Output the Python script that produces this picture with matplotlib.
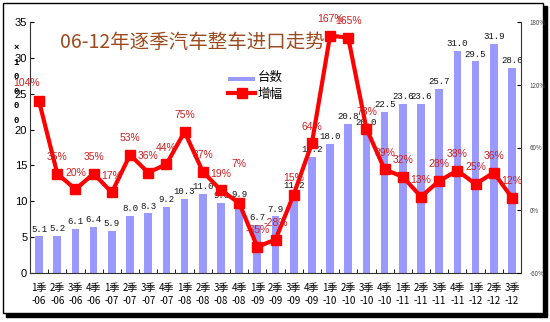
import matplotlib
matplotlib.use("Agg")
import matplotlib.pyplot as plt
from matplotlib.patches import Rectangle

plt.rcParams["font.family"] = ["Noto Sans CJK SC", "DejaVu Sans"]
plt.rcParams["axes.unicode_minus"] = False

# 2006Q1 - 2012Q3
quarters = ["1", "2", "3", "4"] * 6 + ["1", "2", "3"]
years = ["06"] * 4 + ["07"] * 4 + ["08"] * 4 + ["09"] * 4 + ["10"] * 4 + ["11"] * 4 + ["12"] * 3
units = [5.1, 5.2, 6.1, 6.4, 5.9, 8.0, 8.3, 9.2, 10.3, 11.0, 9.8, 9.9, 6.7, 7.9,
         11.2, 16.2, 18.0, 20.8, 20.0, 22.5, 23.6, 23.6, 25.7, 31.0, 29.5, 31.9, 28.6]
growth = [104, 35, 20, 35, 17, 53, 36, 44, 75, 37, 19, 7, -35, -28,
          15, 64, 167, 165, 78, 39, 32, 13, 28, 38, 25, 36, 12]

BAR_COLOR = "#9999FF"
LINE_COLOR = "#FF0000"
PCT_COLOR = "#CC2020"

W, H = 550, 322
fig = plt.figure(figsize=(W / 100, H / 100), dpi=100)

# outer frame with drop shadow (kept behind the axes)
fig.patches.append(Rectangle((6 / W, 1 - 317 / H), 541 / W, 311 / H,
                             transform=fig.transFigure, facecolor="black",
                             edgecolor="black", zorder=-3))
fig.patches.append(Rectangle((3 / W, 1 - 313 / H), 540 / W, 310 / H,
                             transform=fig.transFigure, facecolor="white",
                             edgecolor="black", lw=1, zorder=-2))

ax = fig.add_axes([30 / W, 1 - 273 / H, 491 / W, 251 / H])
ax.patch.set_alpha(0)
x = list(range(len(units)))

ax.bar(x, units, width=0.42, color=BAR_COLOR, zorder=2, label="台数")
ax.set_xlim(-0.5, len(units) - 0.5)
ax.set_ylim(0, 35)
ax.set_yticks(range(0, 36, 5))
ax.tick_params(axis="y", labelsize=8, length=3, direction="in", pad=2)
for lab in ax.get_yticklabels():
    lab.set_family(["Liberation Sans", "DejaVu Sans"])

ax.set_xticks(x)
ax.set_xticklabels([f"{q}季\n-{y}" for q, y in zip(quarters, years)],
                   fontsize=7, linespacing=1.45)
ax.tick_params(axis="x", length=0, pad=7)
ax.set_xticks([i + 0.5 for i in x[:-1]], minor=True)
ax.tick_params(axis="x", which="minor", length=3, direction="in")
for s in ["top", "right"]:
    ax.spines[s].set_visible(False)
ax.spines["left"].set_color("#333333")
ax.spines["bottom"].set_color("#333333")

for xi, v in zip(x, units):
    ax.annotate(f"{v:.1f}", (xi, v), xytext=(0, 2), textcoords="offset points",
                ha="center", va="bottom", fontsize=6.5,
                family=["Liberation Mono", "DejaVu Sans Mono"], color="#111111", zorder=3)

ax2 = ax.twinx()
ax2.set_position(ax.get_position())
ax2.plot(x, growth, color=LINE_COLOR, lw=3, marker="s", ms=6.5, zorder=4, label="增幅")
ax2.set_ylim(-60, 180)
ax2.set_yticks([-60, 0, 60, 120, 180])
ax2.set_yticklabels([f"{v}%" for v in [-60, 0, 60, 120, 180]])
ax2.tick_params(axis="y", labelsize=4.5, length=3, direction="in", pad=6, labelcolor="#444444")
for s in ["top", "left", "bottom"]:
    ax2.spines[s].set_visible(False)
ax2.spines["right"].set_color("#333333")

special = {0: (-9, 13), 11: (0, 28)}
for i, (xi, g) in enumerate(zip(x, growth)):
    off = special.get(i, (0, 12))
    ax2.annotate(f"{g}%", (xi, g), xytext=off, textcoords="offset points",
                 ha="center", va="center", fontsize=7.5, color=PCT_COLOR,
                 family=["Liberation Sans", "DejaVu Sans"], zorder=5)

# legend
h1, l1 = ax.get_legend_handles_labels()
h2, l2 = ax2.get_legend_handles_labels()
leg = ax2.legend(h1 + h2, l1 + l2, loc="upper left", bbox_to_anchor=(0.38, 0.85),
                 frameon=False, fontsize=9, handlelength=2.2, handletextpad=0.2,
                 labelspacing=0.3)
leg.legend_handles[0].set_height(3)

# title and stacked unit label
fig.text(192 / W, 1 - 42 / H, "06-12年逐季汽车整车进口走势", fontsize=14,
         color="#9C4A1E", ha="center", va="center")
fig.text(16 / W, 1 - 84 / H, "\n".join("×10000"), fontsize=6.5, fontweight="bold",
         ha="center", va="center", linespacing=1.8,
         family=["Liberation Mono", "DejaVu Sans Mono"])

fig.savefig("out.png", dpi=100)
